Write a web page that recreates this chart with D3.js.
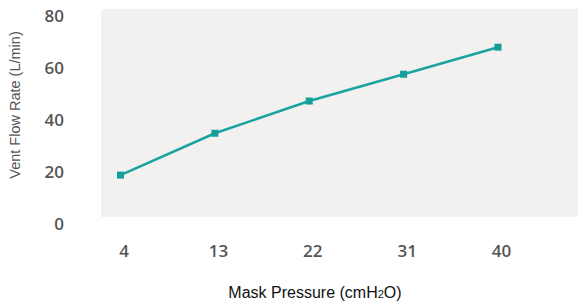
<!DOCTYPE html>
<html>
<head>
<meta charset="utf-8">
<script src="https://cdn.jsdelivr.net/npm/d3@7"></script>
<style>
  body { margin: 0; background: #fff; }
</style>
</head>
<body>
<div id="chart"></div>
<script>
// values
let pressures = [4, 13, 22, 31, 40];
let flowRates = [18.8, 34.9, 47.3, 57.6, 68.0];
let yTicks = [0, 20, 40, 60, 80];

let fullWidth = 578, fullHeight = 301;

let svg = d3.select("#chart")
    .append("svg")
    .attr("width", fullWidth)
    .attr("height", fullHeight);

let x = d3.scaleLinear()
    .domain([4, 40])
    .range([120.5, 498]);

let y = d3.scaleLinear()
    .domain([0, 80])
    .range([224, 16]);

// grey plot panel
svg.append("rect")
    .attr("x", 101)
    .attr("y", 9)
    .attr("width", fullWidth - 101)
    .attr("height", 208)
    .attr("fill", "#f2f1f0");

// y axis labels
let yAxis = svg.append("g")
    .attr("transform", "translate(64,0)")
    .call(d3.axisLeft(y).tickValues(yTicks).tickSize(0).tickPadding(0));
yAxis.select(".domain").remove();
yAxis.selectAll("text")
    .style("font-family", "'Open Sans', 'Noto Sans', sans-serif")
    .style("font-size", "17px")
    .style("font-weight", "600")
    .style("fill", "#555");

// x axis labels
let xAxis = svg.append("g")
    .attr("transform", "translate(3,245)")
    .call(d3.axisBottom(x).tickValues(pressures).tickSize(0).tickPadding(0));
xAxis.select(".domain").remove();
xAxis.selectAll("text")
    .style("font-family", "'Open Sans', 'Noto Sans', sans-serif")
    .style("font-size", "17px")
    .style("font-weight", "600")
    .style("fill", "#555");

let data = pressures.map((p, i) => ({ p: p, v: flowRates[i] }));

let line = d3.line()
    .x(d => x(d.p))
    .y(d => y(d.v));

svg.append("path")
    .datum(data)
    .attr("d", line)
    .attr("fill", "none")
    .attr("stroke", "#1aa3a0")
    .attr("stroke-width", 2.5);

svg.selectAll(".marker")
    .data(data)
    .enter()
    .append("rect")
    .attr("class", "marker")
    .attr("x", d => x(d.p) - 3.5)
    .attr("y", d => y(d.v) - 3.5)
    .attr("width", 7)
    .attr("height", 7)
    .attr("fill", "#139e9a");

// axis titles
svg.append("text")
    .attr("transform", "translate(20,105) rotate(-90)")
    .attr("text-anchor", "middle")
    .style("font-family", "'Liberation Sans', Arial, sans-serif")
    .style("font-size", "14.5px")
    .style("fill", "#555")
    .text("Vent Flow Rate (L/min)");

let xTitle = svg.append("text")
    .attr("x", 315)
    .attr("y", 298)
    .attr("text-anchor", "middle")
    .style("font-family", "'Liberation Sans', Arial, sans-serif")
    .style("font-size", "16px")
    .style("fill", "#111");
xTitle.append("tspan").text("Mask Pressure (cmH");
xTitle.append("tspan").attr("font-size", "11px").text("2");
xTitle.append("tspan").text("O)");
</script>
</body>
</html>
